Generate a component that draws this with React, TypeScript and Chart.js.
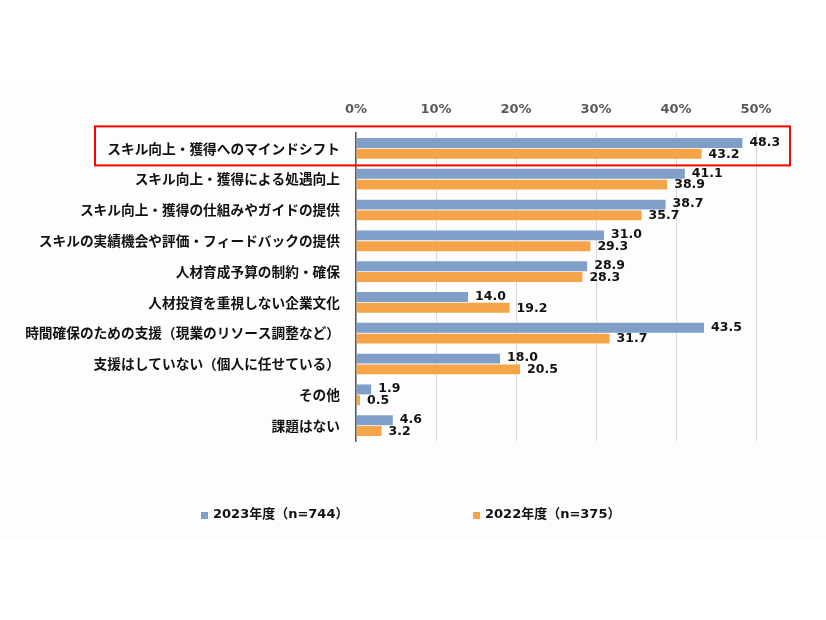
import React, { useEffect, useRef } from "react";
import { Chart, registerables } from "chart.js";

Chart.register(...registerables);

const categories = [
  "スキル向上・獲得へのマインドシフト",
  "スキル向上・獲得による処遇向上",
  "スキル向上・獲得の仕組みやガイドの提供",
  "スキルの実績機会や評価・フィードバックの提供",
  "人材育成予算の制約・確保",
  "人材投資を重視しない企業文化",
  "時間確保のための支援（現業のリソース調整など）",
  "支援はしていない（個人に任せている）",
  "その他",
  "課題はない",
];
const series2023 = [48.3, 41.1, 38.7, 31.0, 28.9, 14.0, 43.5, 18.0, 1.9, 4.6];
const series2022 = [43.2, 38.9, 35.7, 29.3, 28.3, 19.2, 31.7, 20.5, 0.5, 3.2];
const seriesNames = ["2023年度（n=744）", "2022年度（n=375）"];
const xTicks = [0, 10, 20, 30, 40, 50];

const BLUE = "#7f9ec8";
const ORANGE = "#f5a547";
const FONT = "'DejaVu Sans', 'Noto Sans CJK JP', sans-serif";
const JFONT = "'Noto Sans CJK JP', sans-serif";

export default function App() {
  const ref = useRef<HTMLCanvasElement | null>(null);
  useEffect(() => {
    if (!ref.current) return;
    const bgPlugin = {
      id: "bg",
      beforeDraw(chart: any) {
        const ctx = chart.ctx;
        ctx.save();
        ctx.fillStyle = "#ffffff";
        ctx.fillRect(0, 0, chart.width, chart.height);
        ctx.fillStyle = "#fdfdfd";
        ctx.fillRect(0, 80, chart.width, 460);
        ctx.restore();
      },
    };
    const labelPlugin = {
      id: "vals",
      afterDatasetsDraw(chart: any) {
        const ctx = chart.ctx;
        ctx.save();
        ctx.font = `bold 12.5px ${FONT}`;
        ctx.fillStyle = "#111111";
        ctx.textAlign = "left";
        ctx.textBaseline = "middle";
        chart.data.datasets.forEach((ds: any, di: number) => {
          const meta = chart.getDatasetMeta(di);
          meta.data.forEach((el: any, i: number) => {
            const v = ds.data[i] as number;
            ctx.fillText(v.toFixed(1), el.x + 7, el.y + (di === 0 ? -0.5 : 0.5));
          });
        });
        ctx.restore();
      },
      afterDraw(chart: any) {
        const ctx = chart.ctx;
        const xs = chart.scales.x;
        const ys = chart.scales.y;
        const cy = ys.getPixelForValue(0);
        ctx.save();
        ctx.strokeStyle = "#ff0000";
        ctx.lineWidth = 2;
        ctx.strokeRect(95, cy - 22, xs.getPixelForValue(50) + 34 - 95, 39);
        const colors = [BLUE, ORANGE];
        const lx = [201, 473];
        ctx.font = `bold 13px ${FONT}`;
        ctx.textBaseline = "middle";
        ctx.textAlign = "left";
        seriesNames.forEach((n, i) => {
          ctx.fillStyle = colors[i];
          ctx.fillRect(lx[i], 512, 7, 7);
          ctx.fillStyle = "#111111";
          ctx.fillText(n, lx[i] + 12, 515);
        });
        ctx.restore();
      },
    };
    const chart = new Chart(ref.current, {
      type: "bar",
      data: {
        labels: categories,
        datasets: [
          { label: seriesNames[0], data: series2023, backgroundColor: BLUE },
          { label: seriesNames[1], data: series2022, backgroundColor: ORANGE },
        ],
      },
      options: {
        indexAxis: "y",
        responsive: false,
        animation: false,
        categoryPercentage: 0.7,
        barPercentage: 0.92,
        layout: { padding: { top: 103, right: 70, bottom: 179, left: 0 } },
        plugins: { legend: { display: false }, tooltip: { enabled: false } },
        scales: {
          x: {
            position: "top",
            min: 0,
            max: 50,
            afterBuildTicks: (s: any) => {
              s.ticks = xTicks.map((v) => ({ value: v }));
            },
            afterFit: (s: any) => {
              s.height = 30;
            },
            ticks: {
              padding: 16,
              color: "#595959",
              font: { family: FONT, size: 13, weight: "bold" },
              callback: (v: any) => `${v}%`,
            },
            grid: { color: "#d9d9d9", drawTicks: false, lineWidth: 1 },
            border: { display: false },
          },
          y: {
            afterFit: (s: any) => {
              s.width = 356;
            },
            ticks: {
              padding: 16,
              color: "#111111",
              font: { family: JFONT, size: 13.7, weight: "bold" },
            },
            grid: { display: false, drawTicks: false },
            border: { display: true, color: "#595959", width: 1.5 },
          },
        },
      } as any,
      plugins: [bgPlugin, labelPlugin],
    });
    return () => chart.destroy();
  }, []);
  return (
    <div style={{ position: "absolute", left: 0, top: 0, width: 826, height: 620 }}>
      <canvas ref={ref} width={826} height={620} style={{ width: 826, height: 620 }} />
    </div>
  );
}
